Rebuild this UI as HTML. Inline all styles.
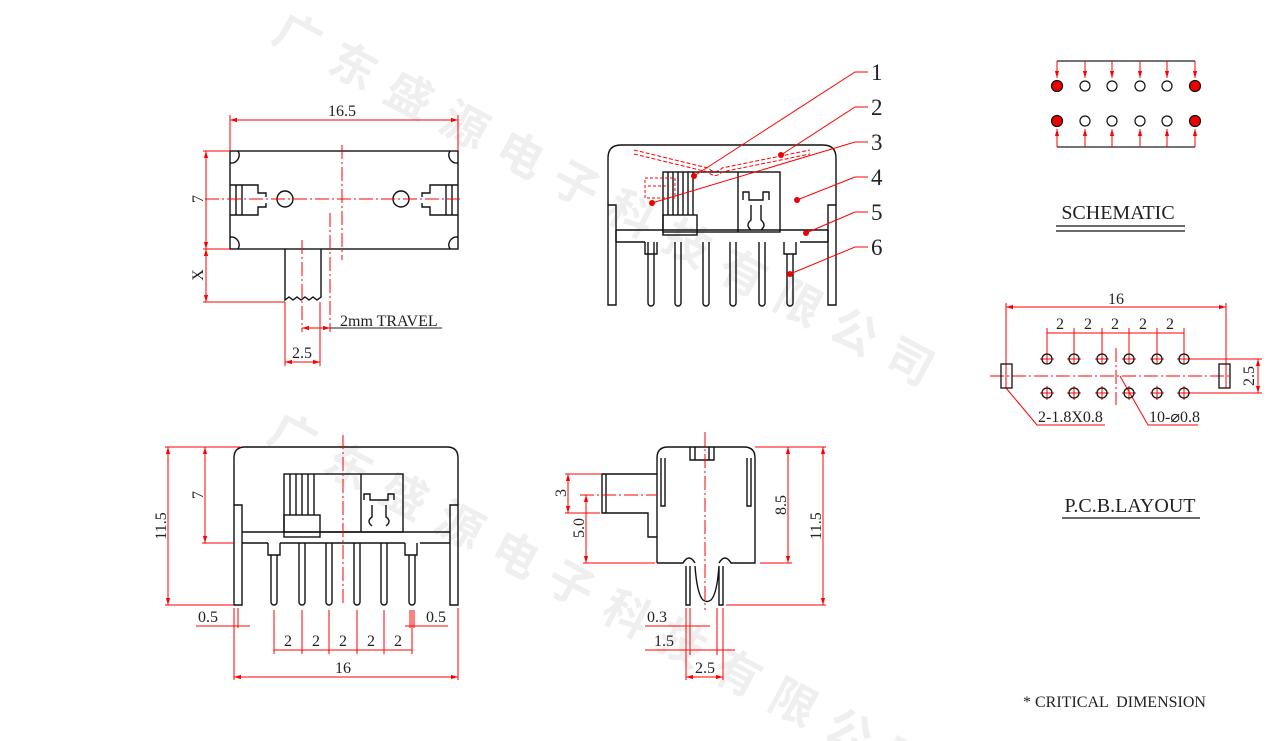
<!DOCTYPE html>
<html><head><meta charset="utf-8"><style>
html,body{margin:0;padding:0;background:#fff;width:1267px;height:741px;overflow:hidden}
svg{display:block}
text{font-family:"Liberation Serif",serif;font-size:16px;fill:#222}
text.n{font-size:23px}
.k{stroke:#111;stroke-width:1.4;fill:none}
.r{stroke:#f00;stroke-width:1;fill:none}
.cl{stroke:#f00;stroke-width:1;fill:none;stroke-dasharray:14 3 2 3}
text.wm{font-family:"Noto Sans CJK SC",sans-serif;font-size:46px;fill:#efefef;font-weight:bold}
</style></head><body>
<svg width="1267" height="741" viewBox="0 0 1267 741" xmlns="http://www.w3.org/2000/svg">
<defs>
<marker id="a" viewBox="0 0 10 10" refX="10" refY="5" markerWidth="7" markerHeight="7" orient="auto-start-reverse"><path d="M0,2 L10,5 L0,8 z" fill="#f00"/></marker>
</defs>
<text class="wm" transform="translate(270,40) rotate(28)" letter-spacing="17">广东盛源电子科技有限公司</text>
<text class="wm" transform="translate(265,440) rotate(28)" letter-spacing="17">广东盛源电子科技有限公司</text>

<!-- VIEW 1 -->
<rect class="k" x="230" y="151" width="228" height="98"/>
<path class="k" d="M230,163 a8,8 0 0 0 8,-12 M458,163 a8,8 0 0 1 -8,-12 M230,237 a8,8 0 0 1 8,12 M458,237 a8,8 0 0 0 -8,12"/>
<path class="k" d="M236,185 v30 M242,185 v30 M230,185 h28 v8 h8 v4 M230,215 h28 v-8 h8 v-4 M452,185 v30 M446,185 v30 M458,185 h-28 v8 h-8 v4 M458,215 h-28 v-8 h-8 v-4"/>
<circle class="k" cx="285" cy="199" r="8"/><circle class="k" cx="401" cy="199" r="8"/>
<line class="cl" x1="205" y1="199" x2="460" y2="199"/>
<line class="cl" x1="342" y1="145" x2="342" y2="260"/>
<path class="k" d="M285,249 V300 l4,-3 4,3 4,-3 4,3 4,-3 4,3 4,-3 4,3 4,-3 V249"/>
<line class="cl" x1="302" y1="240" x2="302" y2="332"/>
<line class="cl" x1="330" y1="213" x2="330" y2="332"/>
<path class="r" d="M230,115 V151 M458,115 V151 M203,151 H230 M203,249 H230 M203,302 H285 M285,302 V366 M320,302 V366"/>
<line class="r" x1="230" y1="120" x2="458" y2="120" marker-start="url(#a)" marker-end="url(#a)"/>
<line class="r" x1="206" y1="151" x2="206" y2="249" marker-start="url(#a)" marker-end="url(#a)"/>
<line class="r" x1="206" y1="249" x2="206" y2="302" marker-start="url(#a)" marker-end="url(#a)"/>
<line class="r" x1="302" y1="328" x2="330" y2="328" marker-start="url(#a)" marker-end="url(#a)"/>
<line class="r" x1="285" y1="362" x2="320" y2="362" marker-start="url(#a)" marker-end="url(#a)"/>
<line x1="330" y1="328" x2="442" y2="328" stroke="#222"/>
<text x="342" y="116" text-anchor="middle">16.5</text>
<text transform="translate(203,199) rotate(-90)" text-anchor="middle">7</text>
<text transform="translate(203,275) rotate(-90)" text-anchor="middle">X</text>
<text x="340" y="326">2mm TRAVEL</text>
<text x="302" y="358" text-anchor="middle">2.5</text>

<!-- VIEW 2 -->
<path class="k" d="M608,205 V158 q0,-13 13,-13 H823 q13,0 13,13 V205"/>
<path class="k" d="M608,205 h8 v100 h-8 z M828,205 h8 v100 h-8 z M616,230 H828 M616,242 H645 M800,242 H828 M645,242 v12 h12 V242 M784,242 v12 h12 V242"/>
<path class="k" d="M616,230 v12 M828,230 v12"/>
<rect class="k" x="663" y="172" width="117" height="60"/>
<rect class="k" x="663" y="215" width="34" height="20"/>
<path class="k" d="M668,172 v43 M673,172 v43 M678,172 v43 M683,172 v43 M688,172 v43 M693,172 v43 M738,172 v60"/>
<path class="k" d="M743,200 v-8 h6 v8 h14 v-8 h6 v8 M751,205 v15 q-6,5 0,10 M761,205 v15 q6,5 0,10"/>
<path class="k" d="M648,242 v61 a3,3 0 0 0 6,0 v-61 M675,242 v61 a3,3 0 0 0 6,0 v-61 M703,242 v61 a3,3 0 0 0 6,0 v-61 M730,242 v61 a3,3 0 0 0 6,0 v-61 M759,242 v61 a3,3 0 0 0 6,0 v-61 M787,254 v49 a3,3 0 0 0 6,0 v-49"/>
<path d="M634,150 L708,168 Q715,175 722,168 L810,150 M634,154 L708,172 Q715,179 722,172 L810,154" stroke="#f00" stroke-width="1" fill="none" stroke-dasharray="4 2"/>
<path d="M645,178 h30 v20 h-30 z M648,186 h20" stroke="#f00" stroke-width="1" fill="none" stroke-dasharray="3 2"/>
<path class="r" d="M868,72 H855 L694,176 M868,107 H855 L781,155 M868,142 H855 L652,203 M868,177 H855 L797,200 M868,212 H855 L806,233 M868,247 H855 L790,274"/>
<g fill="#e00"><circle cx="694" cy="176" r="3"/><circle cx="781" cy="155" r="3"/><circle cx="652" cy="203" r="3"/><circle cx="797" cy="200" r="3"/><circle cx="806" cy="233" r="3"/><circle cx="790" cy="274" r="3"/></g>
<text class="n" x="871" y="80">1</text><text class="n" x="871" y="115">2</text><text class="n" x="871" y="150">3</text><text class="n" x="871" y="185">4</text><text class="n" x="871" y="220">5</text><text class="n" x="871" y="255">6</text>

<!-- VIEW 3 -->
<path class="k" d="M234,505 V458 q0,-11 11,-11 H447 q11,0 11,11 V505"/>
<path class="k" d="M234,505 h8 v100 h-8 z M450,505 h8 v100 h-8 z M242,532 H450 M242,543 H268 M420,543 H450 M268,543 v12 h12 V543 M405,543 v12 h12 V543 M280,543 H405"/>
<rect class="k" x="284" y="474" width="119" height="58"/>
<rect class="k" x="284" y="515" width="36" height="22"/>
<path class="k" d="M290,474 v41 M296,474 v41 M302,474 v41 M308,474 v41 M314,474 v41 M361,474 v58"/>
<path class="k" d="M364,500 v-6 h6 v6 h18 v-6 h6 v6 M372,505 v12 q-6,4 0,9 M386,505 v12 q6,4 0,9"/>
<path class="k" d="M271,555 v47 a3,3 0 0 0 6,0 v-47 M299,543 v59 a3,3 0 0 0 6,0 v-59 M326,543 v59 a3,3 0 0 0 6,0 v-59 M354,543 v59 a3,3 0 0 0 6,0 v-59 M381,543 v59 a3,3 0 0 0 6,0 v-59 M409,555 v47 a3,3 0 0 0 6,0 v-47"/>
<line class="cl" x1="343" y1="435" x2="343" y2="605"/>
<path class="r" d="M165,447 H240 M165,605 H234 M202,543 H234 M234,608 V680 M458,608 V680 M238,608 V628 M410,610 V628 M414,610 V628 M274,610 V654 M302,610 V654 M329,610 V654 M357,610 V654 M384,610 V654 M412,610 V654"/>
<line class="r" x1="168" y1="447" x2="168" y2="605" marker-start="url(#a)" marker-end="url(#a)"/>
<line class="r" x1="205" y1="447" x2="205" y2="543" marker-start="url(#a)" marker-end="url(#a)"/>
<path class="r" d="M196,626 H250 M405,626 H448"/>
<line class="r" x1="274" y1="650" x2="412" y2="650"/>
<line class="r" x1="234" y1="677" x2="458" y2="677" marker-start="url(#a)" marker-end="url(#a)"/>
<text transform="translate(166,526) rotate(-90)" text-anchor="middle">11.5</text>
<text transform="translate(203,495) rotate(-90)" text-anchor="middle">7</text>
<text x="208" y="622" text-anchor="middle">0.5</text><text x="436" y="622" text-anchor="middle">0.5</text>
<text x="288" y="646" text-anchor="middle">2</text><text x="316" y="646" text-anchor="middle">2</text><text x="343" y="646" text-anchor="middle">2</text><text x="371" y="646" text-anchor="middle">2</text><text x="398" y="646" text-anchor="middle">2</text>
<text x="343" y="673" text-anchor="middle">16</text>

<!-- VIEW 4 -->
<path class="k" d="M657,563 V458 q0,-11 11,-11 H744 q11,0 11,11 V563 H731 q-6,-10 -12,0 M657,563 H683 q6,-10 12,0"/>
<path class="k" d="M661,458 v48 h4 v-48 M751,458 v48 h-4 v-48 M690,447 v13 h24 v-13 M695,447 v13 M709,447 v13"/>
<path class="k" d="M657,474 H602 v39 h46 v24 h9 M606,474 v39"/>
<path class="k" d="M686,566 v39 h4 v-39 M719,566 v39 h4 v-39 M695,566 q2,28 8,34 q4,3 8,0 q6,-6 8,-34"/>
<line class="cl" x1="705" y1="432" x2="705" y2="610"/>
<line class="cl" x1="580" y1="495" x2="657" y2="495"/>
<path class="r" d="M565,474 H602 M565,513 H600 M583,563 H655 M755,447 H826 M760,563 H792 M726,605 H826 M686,608 V680 M690,608 V655 M717,608 V655 M723,608 V680"/>
<line class="r" x1="568" y1="474" x2="568" y2="513" marker-start="url(#a)" marker-end="url(#a)"/>
<line class="r" x1="586" y1="495" x2="586" y2="563" marker-start="url(#a)" marker-end="url(#a)"/>
<line class="r" x1="788" y1="447" x2="788" y2="563" marker-start="url(#a)" marker-end="url(#a)"/>
<line class="r" x1="823" y1="447" x2="823" y2="605" marker-start="url(#a)" marker-end="url(#a)"/>
<path class="r" d="M645,626 H710 M645,650 H735"/>
<line class="r" x1="686" y1="677" x2="723" y2="677" marker-start="url(#a)" marker-end="url(#a)"/>
<text transform="translate(566,493) rotate(-90)" text-anchor="middle">3</text>
<text transform="translate(584,528) rotate(-90)" text-anchor="middle">5.0</text>
<text transform="translate(786,505) rotate(-90)" text-anchor="middle">8.5</text>
<text transform="translate(821,526) rotate(-90)" text-anchor="middle">11.5</text>
<text x="657" y="622" text-anchor="middle">0.3</text>
<text x="664" y="646" text-anchor="middle">1.5</text>
<text x="705" y="673" text-anchor="middle">2.5</text>

<!-- SCHEMATIC -->
<path d="M1057,61 H1195 M1057,147 H1195" stroke="#222" stroke-width="1.2"/>
<g class="r">
<line x1="1057" y1="61" x2="1057" y2="78" marker-end="url(#a)"/><line x1="1085" y1="61" x2="1085" y2="78" marker-end="url(#a)"/><line x1="1112" y1="61" x2="1112" y2="78" marker-end="url(#a)"/><line x1="1140" y1="61" x2="1140" y2="78" marker-end="url(#a)"/><line x1="1167" y1="61" x2="1167" y2="78" marker-end="url(#a)"/><line x1="1195" y1="61" x2="1195" y2="78" marker-end="url(#a)"/>
<line x1="1057" y1="147" x2="1057" y2="129" marker-end="url(#a)"/><line x1="1085" y1="147" x2="1085" y2="129" marker-end="url(#a)"/><line x1="1112" y1="147" x2="1112" y2="129" marker-end="url(#a)"/><line x1="1140" y1="147" x2="1140" y2="129" marker-end="url(#a)"/><line x1="1167" y1="147" x2="1167" y2="129" marker-end="url(#a)"/><line x1="1195" y1="147" x2="1195" y2="129" marker-end="url(#a)"/>
</g>
<g stroke="#111" stroke-width="1.2" fill="#fff">
<circle cx="1085" cy="86" r="5"/><circle cx="1112" cy="86" r="5"/><circle cx="1140" cy="86" r="5"/><circle cx="1167" cy="86" r="5"/>
<circle cx="1085" cy="121" r="5"/><circle cx="1112" cy="121" r="5"/><circle cx="1140" cy="121" r="5"/><circle cx="1167" cy="121" r="5"/>
<circle cx="1057" cy="86" r="5.5" fill="#e00"/><circle cx="1195" cy="86" r="5.5" fill="#e00"/><circle cx="1057" cy="121" r="5.5" fill="#e00"/><circle cx="1195" cy="121" r="5.5" fill="#e00"/>
</g>
<text x="1118" y="219" text-anchor="middle" style="font-size:20px">SCHEMATIC</text>
<path d="M1056,226 H1185 M1056,231 H1185" stroke="#111" stroke-width="1.2"/>

<!-- PCB -->
<line class="cl" x1="990" y1="376" x2="1230" y2="376"/>
<line class="cl" x1="1116" y1="348" x2="1116" y2="405"/>
<g class="r">
<path d="M1006,303 V388 M1226,303 V388 M1047,328 V352 M1074,328 V352 M1102,328 V352 M1129,328 V352 M1157,328 V352 M1184,328 V352 M1190,359 H1262 M1190,393 H1262"/>
<path d="M1047,352 v12 M1040,359 h14 M1074,352 v12 M1067,359 h14 M1102,352 v12 M1095,359 h14 M1129,352 v12 M1122,359 h14 M1157,352 v12 M1150,359 h14 M1184,352 v12 M1177,359 h14"/>
<path d="M1047,386 v14 M1040,393 h14 M1074,386 v14 M1067,393 h14 M1102,386 v14 M1095,393 h14 M1129,386 v14 M1122,393 h14 M1157,386 v14 M1150,393 h14 M1184,386 v14 M1177,393 h14"/>
<path d="M1006,388 L1037,425 H1105 M1120,376 L1148,425 H1198"/>
</g>
<line class="r" x1="1006" y1="307" x2="1226" y2="307" marker-start="url(#a)" marker-end="url(#a)"/>
<line class="r" x1="1047" y1="333" x2="1184" y2="333"/>
<line class="r" x1="1258" y1="359" x2="1258" y2="393" marker-start="url(#a)" marker-end="url(#a)"/>
<g stroke="#111" stroke-width="1.3" fill="none">
<circle cx="1047" cy="359" r="5"/><circle cx="1074" cy="359" r="5"/><circle cx="1102" cy="359" r="5"/><circle cx="1129" cy="359" r="5"/><circle cx="1157" cy="359" r="5"/><circle cx="1184" cy="359" r="5"/>
<circle cx="1047" cy="393" r="5"/><circle cx="1074" cy="393" r="5"/><circle cx="1102" cy="393" r="5"/><circle cx="1129" cy="393" r="5"/><circle cx="1157" cy="393" r="5"/><circle cx="1184" cy="393" r="5"/>
<rect x="1001" y="364" width="11" height="24"/><rect x="1219" y="364" width="11" height="24"/>
</g>
<text x="1116" y="304" text-anchor="middle">16</text>
<text x="1060" y="329" text-anchor="middle">2</text><text x="1088" y="329" text-anchor="middle">2</text><text x="1115" y="329" text-anchor="middle">2</text><text x="1143" y="329" text-anchor="middle">2</text><text x="1170" y="329" text-anchor="middle">2</text>
<text transform="translate(1254,376) rotate(-90)" text-anchor="middle">2.5</text>
<text x="1038" y="422">2-1.8X0.8</text>
<text x="1149" y="422">10-⌀0.8</text>
<text x="1130" y="512" text-anchor="middle" style="font-size:20px">P.C.B.LAYOUT</text>
<line x1="1062" y1="518" x2="1200" y2="518" stroke="#111" stroke-width="1.2"/>
<text x="1023" y="707" xml:space="preserve">* CRITICAL  DIMENSION</text>
</svg>
</body></html>
